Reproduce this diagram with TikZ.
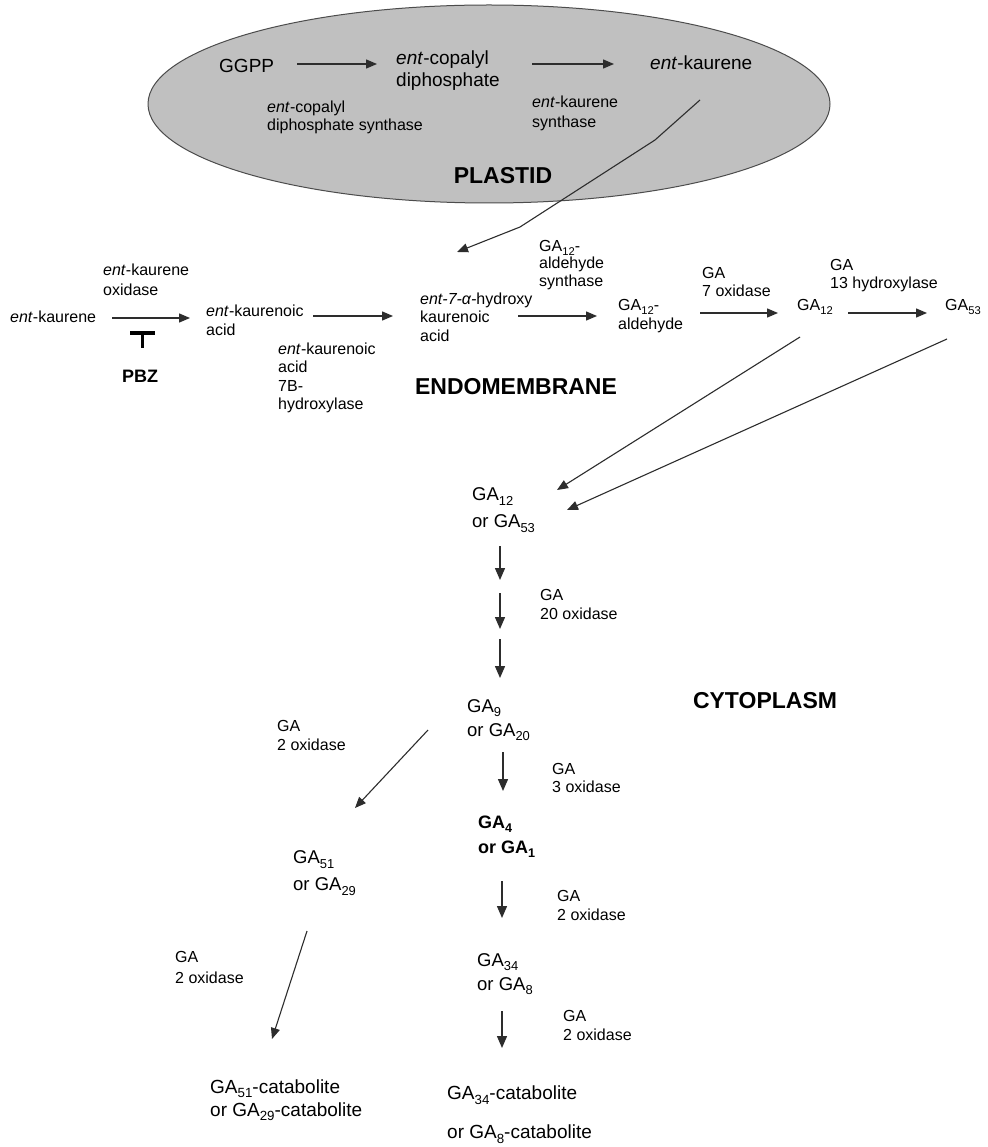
\documentclass[tikz,border=0pt]{standalone}
\usepackage{fontspec}
\setmainfont{Liberation Sans}
\usepackage{graphicx}
\usetikzlibrary{arrows.meta,shapes.geometric}
\definecolor{plastidgray}{RGB}{192,192,192}
\definecolor{linegray}{RGB}{45,45,45}
\newcommand\gs[1]{\raisebox{-0.45ex}{\scalebox{0.7}{#1}}}
\newcommand\ent{\textit{ent}}
\begin{document}
\begin{tikzpicture}[x=1pt,y=-1pt,
  every node/.style={inner sep=0pt,anchor=west,align=left,text=black},
  lab/.style={font=\fontsize{16}{18.5}\selectfont},
  cmp/.style={font=\fontsize{19}{22}\selectfont},
  mn/.style={font=\fontsize{18.5}{25}\selectfont},
  region/.style={anchor=center,font=\fontsize{23}{26}\selectfont\bfseries},
  arr/.style={draw=linegray,line width=1.4pt,-{Triangle[length=11pt,width=9pt]}},
  varr/.style={draw=linegray,line width=1.4pt,-{Triangle[length=12pt,width=10pt]}},
  diag/.style={draw=linegray,line width=1.1pt,-{Triangle[length=11pt,width=9pt]}},
  inhib/.style={draw=black,line width=3.5pt}]
\useasboundingbox (0,0) rectangle (987,1147);
\fill[white] (0,0) rectangle (987,1147);
% plastid
\node[ellipse,draw=black!70,line width=1pt,fill=plastidgray,minimum width=682pt,minimum height=198pt,anchor=center] (plastid) at (489,104) {};
\node[cmp] (ggpp) at (219,66) {GGPP};
\node[cmp] (ecpp) at (396,71) {\ent-copalyl\\diphosphate};
\node[cmp] (ekp) at (650,63) {\ent-kaurene};
\node[font=\fontsize{16}{18}\selectfont] (cpps) at (267,117) {\ent-copalyl\\diphosphate synthase};
\node[font=\fontsize{16}{20}\selectfont] (kss) at (532,113) {\ent-kaurene\\synthase};
\node[region] (plastidlab) at (503,176) {PLASTID};
% endomembrane row
\node[lab] (ek) at (10,317) {\ent-kaurene};
\node[font=\fontsize{16}{20}\selectfont] (eko) at (103,280) {\ent-kaurene\\oxidase};
\node[anchor=center,font=\fontsize{18}{20}\selectfont\bfseries] (pbz) at (140,376) {PBZ};
\node[font=\fontsize{16}{19}\selectfont] (eka) at (206,320) {\ent-kaurenoic\\acid};
\node[lab] (ka7) at (278,378) {\ent-kaurenoic\\acid\\7B-\\hydroxylase};
\node[lab] (e7a) at (420,317) {\textit{ent-7-α-}hydroxy\\kaurenoic\\acid};
\node[font=\fontsize{16}{17.5}\selectfont] (gas) at (539,265) {GA\gs{12}-\\aldehyde\\synthase};
\node[font=\fontsize{16}{19}\selectfont] (gald) at (618,316) {GA\gs{12}-\\aldehyde};
\node[font=\fontsize{16}{18}\selectfont] (ox7) at (702,282) {GA\\7 oxidase};
\node[lab] (g12) at (797,307) {GA\gs{12}};
\node[font=\fontsize{16}{18}\selectfont] (h13) at (830,276) {GA\\13 hydroxylase};
\node[lab] (g53) at (945,307) {GA\gs{53}};
\node[region] (endo) at (516,387) {ENDOMEMBRANE};
% cytoplasm main column
\node[font=\fontsize{18.5}{27}\selectfont] (m1) at (472,510) {GA\gs{12}\\or GA\gs{53}};
\node[font=\fontsize{16}{19}\selectfont] (ox20) at (540,604) {GA\\20 oxidase};
\node[font=\fontsize{18.5}{24}\selectfont] (m2) at (467,720) {GA\gs{9}\\or GA\gs{20}};
\node[lab] (ox3) at (552,778) {GA\\3 oxidase};
\node[font=\fontsize{18}{25}\selectfont\bfseries] (m3) at (478,837) {GA\gs{4}\\or GA\gs{1}};
\node[font=\fontsize{16}{19}\selectfont] (ox2a) at (557,905) {GA\\2 oxidase};
\node[font=\fontsize{18.5}{24}\selectfont] (m4) at (477,974) {GA\gs{34}\\or GA\gs{8}};
\node[font=\fontsize{16}{19}\selectfont] (ox2b) at (563,1025) {GA\\2 oxidase};
\node[font=\fontsize{19}{24}\selectfont] (m5a) at (447,1095) {GA\gs{34}-catabolite};
\node[font=\fontsize{19}{24}\selectfont] (m5b) at (447,1134) {or GA\gs{8}-catabolite};
\node[region] (cyto) at (765,701) {CYTOPLASM};
% left branch
\node[font=\fontsize{16}{19}\selectfont] (ox2c) at (277,735) {GA\\2 oxidase};
\node[font=\fontsize{18.5}{27}\selectfont] (l1) at (293,873) {GA\gs{51}\\or GA\gs{29}};
\node[font=\fontsize{16}{21}\selectfont] (ox2d) at (175,967) {GA\\2 oxidase};
\node[font=\fontsize{19}{23}\selectfont] (l2) at (210,1100) {GA\gs{51}-catabolite\\or GA\gs{29}-catabolite};
% connector ends
\coordinate (p1s) at (297,64); \coordinate (p1e) at (377,64);
\coordinate (p2s) at (532,64); \coordinate (p2e) at (614,64);
\coordinate (t0) at (700,100); \coordinate (t1) at (655,140);
\coordinate (t2) at (520,227); \coordinate (t3) at (457,252);
\coordinate (r1s) at (112,318); \coordinate (r1e) at (190,318);
\coordinate (r2s) at (313,316); \coordinate (r2e) at (393,316);
\coordinate (r3s) at (518,316); \coordinate (r3e) at (597,316);
\coordinate (r4s) at (700,313); \coordinate (r4e) at (778,313);
\coordinate (r5s) at (848,313); \coordinate (r5e) at (927,313);
\coordinate (ib1) at (130,333); \coordinate (ib2) at (155,333);
\coordinate (is1) at (142.5,333); \coordinate (is2) at (142.5,348);
\coordinate (d1s) at (800,337); \coordinate (d1e) at (557,490);
\coordinate (d2s) at (947,339); \coordinate (d2e) at (567,510);
\coordinate (v1s) at (500,546); \coordinate (v1e) at (500,580);
\coordinate (v2s) at (500,593); \coordinate (v2e) at (500,629);
\coordinate (v3s) at (500,639); \coordinate (v3e) at (500,678);
\coordinate (v4s) at (503,752); \coordinate (v4e) at (503,791);
\coordinate (v5s) at (502,881); \coordinate (v5e) at (502,918);
\coordinate (v6s) at (502,1011); \coordinate (v6e) at (502,1048);
\coordinate (b1s) at (428,730); \coordinate (b1e) at (355,808);
\coordinate (b2s) at (307,931); \coordinate (b2e) at (272,1039);
% connectors
\draw[arr] (p1s) -- (p1e);
\draw[arr] (p2s) -- (p2e);
\draw[diag] (t0) -- (t1) -- (t2) -- (t3);
\draw[arr] (r1s) -- (r1e);
\draw[arr] (r2s) -- (r2e);
\draw[arr] (r3s) -- (r3e);
\draw[arr] (r4s) -- (r4e);
\draw[arr] (r5s) -- (r5e);
\draw[inhib] (ib1) -- (ib2);
\draw[inhib] (is1) -- (is2);
\draw[diag] (d1s) -- (d1e);
\draw[diag] (d2s) -- (d2e);
\draw[varr] (v1s) -- (v1e);
\draw[varr] (v2s) -- (v2e);
\draw[varr] (v3s) -- (v3e);
\draw[varr] (v4s) -- (v4e);
\draw[varr] (v5s) -- (v5e);
\draw[varr] (v6s) -- (v6e);
\draw[diag] (b1s) -- (b1e);
\draw[diag] (b2s) -- (b2e);
\end{tikzpicture}
\end{document}
